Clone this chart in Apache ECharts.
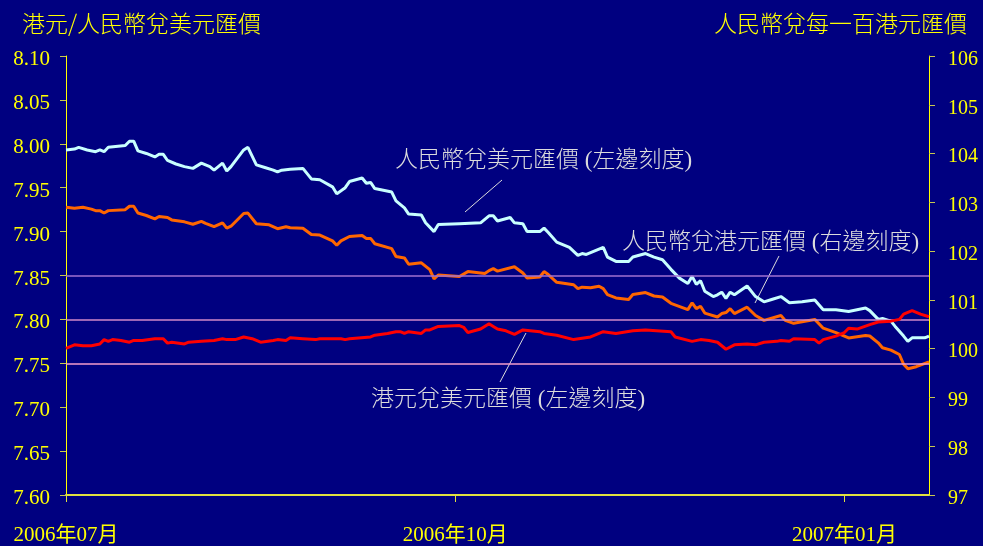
<!DOCTYPE html>
<html>
<head>
<meta charset="utf-8">
<script src="https://cdn.jsdelivr.net/npm/echarts@6/dist/echarts.min.js"></script>
<style>
html, body { margin: 0; padding: 0; background: #000080; }
#char { width: 983px; height: 546px; }
</style>
</head>
<body>
<div id="char"></div>
<script>
// x 值 = 由 2006-07-01 起計的日數
var xTickDays = [0, 92, 184];
var xTickLabels = ['2006年07月', '2006年10月', '2007年01月'];
var xMaxDay = 204;

// 人民幣兌美元 (左邊刻度)
var cnyUsdDay = [0,2,3,5,7,8,9,10,14,15,16,17,19,21,22,23,24,26,28,30,32,34,35,37,38,39,42,43,45,47,49,50,51,53,56,58,60,63,64,66,67,70,71,72,73,77,78,80,81,84,85,87,88,93,98,100,101,102,105,106,108,109,112,113,114,116,119,121,122,123,127,128,130,133,134,137,139,141,143,145,147,148,149,150,151,153,154,155,156,157,158,161,163,165,167,169,171,174,177,179,182,185,189,190,192,193,195,196,198,199,200,203,204];
var cnyUsdVal = [7.993,7.994,7.996,7.993,7.991,7.993,7.991,7.996,7.998,8.003,8.003,7.992,7.989,7.985,7.988,7.988,7.981,7.977,7.974,7.972,7.978,7.974,7.970,7.978,7.969,7.974,7.993,7.996,7.976,7.973,7.970,7.968,7.970,7.971,7.972,7.960,7.959,7.951,7.943,7.950,7.957,7.961,7.955,7.956,7.949,7.945,7.935,7.927,7.920,7.919,7.910,7.900,7.908,7.909,7.910,7.918,7.918,7.912,7.916,7.910,7.909,7.900,7.900,7.904,7.899,7.888,7.882,7.873,7.875,7.874,7.882,7.871,7.866,7.866,7.871,7.875,7.871,7.868,7.857,7.847,7.841,7.849,7.840,7.844,7.832,7.826,7.828,7.831,7.824,7.831,7.828,7.838,7.826,7.820,7.823,7.826,7.819,7.820,7.822,7.811,7.811,7.809,7.813,7.810,7.800,7.801,7.798,7.792,7.781,7.775,7.779,7.779,7.781];

// 人民幣兌每一百港元 (右邊刻度)
var cnyHkdDay = [0,2,4,6,7,8,9,10,14,15,16,17,19,21,22,24,25,28,30,32,33,35,37,38,39,42,43,45,48,50,52,53,56,58,60,63,64,65,67,70,71,72,73,77,78,80,81,84,86,87,88,93,95,99,100,101,102,106,108,109,112,113,114,116,120,121,122,124,126,127,128,130,133,134,137,139,141,143,147,148,149,150,151,154,155,156,157,158,161,163,165,169,170,172,177,179,182,185,189,190,192,193,195,197,198,199,201,204];
var cnyHkdVal = [102.90,102.88,102.90,102.86,102.83,102.83,102.78,102.83,102.85,102.92,102.92,102.78,102.73,102.66,102.71,102.69,102.64,102.60,102.55,102.61,102.57,102.50,102.58,102.47,102.51,102.77,102.78,102.56,102.54,102.46,102.50,102.48,102.47,102.34,102.33,102.21,102.12,102.21,102.30,102.32,102.26,102.26,102.15,102.05,101.89,101.86,101.73,101.76,101.62,101.43,101.51,101.48,101.58,101.54,101.60,101.64,101.59,101.68,101.55,101.45,101.47,101.58,101.52,101.36,101.31,101.23,101.26,101.25,101.28,101.23,101.11,101.04,101.01,101.11,101.15,101.08,101.06,100.93,100.80,100.94,100.82,100.87,100.73,100.65,100.72,100.74,100.82,100.72,100.85,100.68,100.58,100.68,100.58,100.52,100.60,100.42,100.33,100.22,100.27,100.26,100.12,100.02,99.97,99.88,99.68,99.59,99.63,99.73];

// 港元兌美元 (左邊刻度)
var hkdUsdDay = [0,1,2,4,6,8,9,10,11,13,15,16,18,21,23,24,25,28,29,32,35,37,38,40,42,44,46,49,50,52,53,56,59,60,65,66,67,72,73,76,78,79,80,81,84,85,86,88,93,94,95,98,100,101,102,104,106,108,112,113,116,120,124,127,130,134,137,143,144,148,150,152,154,156,158,161,163,165,168,169,171,172,177,178,179,182,184,185,187,190,192,195,197,198,200,202,204];
var hkdUsdVal = [7.767,7.769,7.771,7.770,7.770,7.772,7.777,7.775,7.777,7.776,7.774,7.776,7.776,7.778,7.778,7.773,7.774,7.772,7.774,7.775,7.776,7.778,7.777,7.777,7.780,7.778,7.774,7.776,7.777,7.776,7.779,7.778,7.777,7.778,7.778,7.777,7.778,7.780,7.782,7.784,7.786,7.786,7.784,7.786,7.784,7.788,7.788,7.792,7.793,7.791,7.785,7.789,7.795,7.792,7.789,7.787,7.783,7.788,7.786,7.784,7.782,7.777,7.780,7.786,7.784,7.787,7.788,7.786,7.780,7.775,7.777,7.776,7.774,7.766,7.771,7.772,7.771,7.774,7.775,7.776,7.775,7.778,7.777,7.773,7.777,7.781,7.785,7.790,7.789,7.794,7.797,7.798,7.800,7.806,7.810,7.806,7.803];

// 聯繫匯率區間參考線
var bandLines = [7.85, 7.80, 7.75];
var bandColors = ['#a070d0', '#d088c8', '#f59ccb'];

function zip(xs, ys) {
  var out = [];
  for (var i = 0; i < xs.length; i++) {
    out.push([xs[i], ys[i]]);
  }
  return out;
}

var numFont = "'Liberation Serif', 'Noto Sans CJK TC', serif";
var cjkFont = "'Noto Sans CJK TC', 'Liberation Serif', sans-serif";
var yellow = '#ffff00';
var noteColor = '#dcdcdc';

var myChart = echarts.init(document.getElementById('char'));
var option = {
  backgroundColor: '#000080',
  animation: false,
  grid: {
    left: 66,
    right: 54,
    top: 56,
    bottom: 50
  },
  xAxis: {
    type: 'value',
    min: 0,
    max: xMaxDay,
    splitLine: { show: false },
    axisLine: { lineStyle: { color: '#e0e040', width: 2 } },
    axisTick: {
      customValues: xTickDays,
      length: 7,
      lineStyle: { color: '#e0e040' }
    },
    axisLabel: {
      customValues: xTickDays,
      margin: 30,
      color: yellow,
      fontSize: 21,
      fontFamily: numFont,
      formatter: function (v) {
        var i = xTickDays.indexOf(v);
        return i >= 0 ? xTickLabels[i] : '';
      }
    }
  },
  yAxis: [
    {
      type: 'value',
      position: 'left',
      min: 7.6,
      max: 8.1,
      interval: 0.05,
      splitLine: { show: false },
      axisLine: { show: true, lineStyle: { color: yellow, width: 1 } },
      axisTick: { show: true, length: 6, lineStyle: { color: '#c8c850' } },
      axisLabel: {
        margin: 16,
        formatter: function (v) { return '{n|' + v.toFixed(2) + '}'; },
        rich: {
          n: { color: yellow, fontSize: 21, fontFamily: numFont, padding: [7, 0, 0, 0] }
        }
      }
    },
    {
      type: 'value',
      position: 'right',
      min: 97,
      max: 106,
      interval: 1,
      splitLine: { show: false },
      axisLine: { show: true, lineStyle: { color: yellow, width: 1 } },
      axisTick: { show: true, length: 6, lineStyle: { color: '#c8c850' } },
      axisLabel: {
        margin: 19,
        formatter: function (v) { return '{n|' + v + '}'; },
        rich: {
          n: { color: yellow, fontSize: 20, fontFamily: numFont, padding: [7, 0, 0, 0] }
        }
      }
    }
  ],
  series: [
    {
      name: 'band',
      type: 'line',
      yAxisIndex: 0,
      data: [],
      z: 1,
      markLine: {
        silent: true,
        symbol: 'none',
        label: { show: false },
        data: bandLines.map(function (v, i) {
          return { yAxis: v, lineStyle: { color: bandColors[i], width: 1.5, type: 'solid' } };
        })
      }
    },
    {
      name: '人民幣兌美元匯價',
      type: 'line',
      yAxisIndex: 0,
      showSymbol: false,
      lineStyle: { color: '#c8ffff', width: 3 },
      data: zip(cnyUsdDay, cnyUsdVal),
      z: 3
    },
    {
      name: '人民幣兌港元匯價',
      type: 'line',
      yAxisIndex: 1,
      showSymbol: false,
      lineStyle: { color: '#ff6600', width: 3 },
      data: zip(cnyHkdDay, cnyHkdVal),
      z: 4
    },
    {
      name: '港元兌美元匯價',
      type: 'line',
      yAxisIndex: 0,
      showSymbol: false,
      lineStyle: { color: '#ff0000', width: 3 },
      data: zip(hkdUsdDay, hkdUsdVal),
      z: 5
    }
  ],
  graphic: [
    { type: 'text', left: 22, top: 12, style: { text: '港元/人民幣兌美元匯價', fill: yellow, font: '300 23px ' + cjkFont } },
    { type: 'text', right: 16, top: 12, style: { text: '人民幣兌每一百港元匯價', fill: yellow, font: '300 23px ' + cjkFont } },
    { type: 'text', left: 395, top: 149, style: { text: '人民幣兌美元匯價 (左邊刻度)', fill: noteColor, font: '300 23px ' + numFont } },
    { type: 'text', left: 622, top: 231, style: { text: '人民幣兌港元匯價 (右邊刻度)', fill: noteColor, font: '300 23px ' + numFont } },
    { type: 'text', left: 371, top: 388, style: { text: '港元兌美元匯價 (左邊刻度)', fill: noteColor, font: '300 23px ' + numFont } },
    { type: 'line', shape: { x1: 502, y1: 180, x2: 465, y2: 212 }, style: { stroke: noteColor, lineWidth: 1 } },
    { type: 'line', shape: { x1: 779, y1: 256, x2: 755, y2: 303 }, style: { stroke: noteColor, lineWidth: 1 } },
    { type: 'line', shape: { x1: 526, y1: 333, x2: 500, y2: 382 }, style: { stroke: noteColor, lineWidth: 1 } }
  ]
};
myChart.setOption(option);
</script>
</body>
</html>
